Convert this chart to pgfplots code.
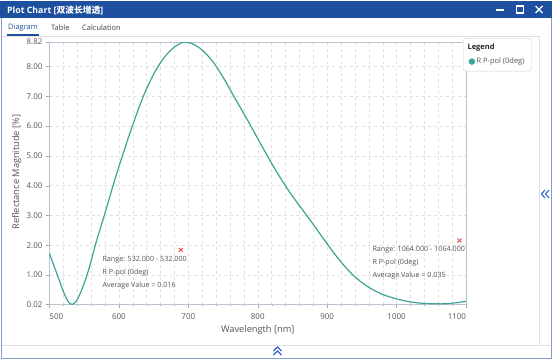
\documentclass[border=0pt]{standalone}
\usepackage{pgfplots}
\pgfplotsset{compat=1.18}
\usepackage{pgfplotstable}
\usepackage{fontspec}
\setmainfont{Open Sans}
\newfontfamily\cjk{Noto Sans CJK SC}
\definecolor{curve}{RGB}{60,165,150}
\definecolor{winblue}{RGB}{30,80,160}
\definecolor{axgray}{RGB}{185,195,208}
\definecolor{gridgray}{RGB}{224,224,224}
\definecolor{txt}{RGB}{85,85,85}
\definecolor{chev}{RGB}{50,100,210}
\definecolor{mkred}{RGB}{235,70,70}

\pgfplotstableread{
x y
500 1.73
504 1.46
508 1.21
512 0.96
516 0.70
520 0.45
524 0.23
528 0.08
532 0.016
536 0.06
540 0.18
544 0.37
548 0.60
552 0.86
556 1.15
560 1.48
565 1.92
570 2.32
575 2.70
580 3.08
585 3.48
590 3.88
595 4.27
600 4.64
605 5.00
610 5.355
615 5.705
620 6.045
625 6.375
630 6.69
635 6.99
640 7.26
645 7.51
650 7.74
655 7.95
660 8.13
665 8.29
670 8.43
675 8.55
680 8.65
685 8.73
690 8.79
695 8.82
700 8.80
705 8.77
710 8.71
715 8.64
720 8.55
725 8.44
730 8.31
735 8.17
740 8.01
745 7.83
750 7.64
755 7.44
760 7.23
765 7.02
770 6.82
775 6.62
780 6.41
785 6.21
790 6.00
800 5.58
810 5.16
820 4.75
830 4.36
840 3.99
850 3.65
860 3.33
870 3.02
880 2.70
890 2.37
900 2.05
910 1.73
920 1.44
930 1.17
940 0.94
950 0.75
960 0.59
970 0.46
980 0.35
990 0.27
1000 0.20
1010 0.145
1020 0.10
1030 0.07
1040 0.05
1050 0.04
1064 0.035
1075 0.045
1085 0.07
1092 0.09
1100 0.12
}\curvedata

\begin{document}
\begin{tikzpicture}
\useasboundingbox (0,0) rectangle (552bp,-359bp);
\fill[white] (0,0) rectangle (552bp,-359bp);
% title bar
\fill[winblue] (0,-1bp) rectangle (552bp,-18bp);
\node[anchor=west, text=white, font=\fontsize{8.8}{10}\selectfont\bfseries, inner sep=0] at (7bp,-10bp) {Plot Chart [{\cjk 双波长增透}]};
\draw[white, line width=1.2bp] (496bp,-10bp) -- (504bp,-10bp);
\draw[white, line width=1.1bp] (516.5bp,-6bp) rectangle (523.5bp,-13bp);
\draw[white, line width=1.1bp] (535.5bp,-6bp) -- (542.5bp,-13bp) (535.5bp,-13bp) -- (542.5bp,-6bp);
% window frame
\draw[winblue!55, line width=1bp] (1bp,-18bp) -- (1bp,-358bp) -- (551bp,-358bp) -- (551bp,-18bp);
% tabs
\node[anchor=west, font=\fontsize{7.5}{9}\selectfont, text=winblue, inner sep=0] at (8bp,-28bp) {Diagram};
\node[anchor=west, font=\fontsize{7.5}{9}\selectfont, text=black!75, inner sep=0] at (51bp,-28bp) {Table};
\node[anchor=west, font=\fontsize{7.5}{9}\selectfont, text=black!75, inner sep=0] at (82bp,-28bp) {Calculation};
\fill[winblue] (7bp,-33.5bp) rectangle (39bp,-35.5bp);
\draw[black!12] (2bp,-36bp) -- (539bp,-36bp);
\draw[black!12] (539bp,-36bp) -- (539bp,-345bp);
\draw[black!12] (2bp,-345bp) -- (550bp,-345bp);
% chevrons
\draw[chev, line width=1.1bp] (545bp,-190bp) -- (541.5bp,-194bp) -- (545bp,-198bp);
\draw[chev, line width=1.1bp] (549bp,-190bp) -- (545.5bp,-194bp) -- (549bp,-198bp);
\draw[chev, line width=1.1bp] (273.5bp,-351bp) -- (277.5bp,-347bp) -- (281.5bp,-351bp);
\draw[chev, line width=1.1bp] (273.5bp,-355bp) -- (277.5bp,-351bp) -- (281.5bp,-355bp);

\begin{axis}[
  at={(49.5bp,-304.3bp)}, anchor=south west, scale only axis,
  width=416.5bp, height=262.3bp,
  xmin=500, xmax=1100, ymin=0.02, ymax=8.82,
  xtick={500,600,...,1100},
  xticklabels={\rlap{500},600,700,800,900,1000,\llap{1100}},
  minor x tick num=4,
  ytick={0.02,1,2,3,4,5,6,7,8,8.82},
  y tick label style={/pgf/number format/fixed, /pgf/number format/fixed zerofill, /pgf/number format/precision=2},
  tick label style={/pgf/number format/assume math mode=true, font=\fontsize{8}{9}\selectfont, text=txt},
  x tick label style={yshift=-2.5bp},
  xmajorgrids, xminorgrids, ymajorgrids,
  grid style={gridgray, dash pattern=on 3bp off 3bp},
  minor grid style={gridgray, dash pattern=on 3bp off 3bp},
  axis line style={axgray},
  tick style={black!35},
  major tick length=3.5bp, minor tick length=2bp,
  tick align=outside, tick pos=left,
  xlabel={Wavelength [nm]}, ylabel={Reflectance Magnitude [\%]},
  label style={font=\fontsize{9.3}{11}\selectfont, text=txt},
  x label style={at={(axis description cs:0.5,-0.099)}, anchor=center},
  y label style={at={(axis description cs:-0.0788,0.504)}, anchor=center},
  legend style={at={(0.9928,1.0153)}, anchor=north west, draw=black!18, rounded corners=3bp, fill=white,
    font=\fontsize{7.5}{9}\selectfont, text=txt, inner xsep=5.5bp, inner ysep=4.5bp, row sep=4bp,
    nodes={inner sep=1.5bp, text height=5.5bp, text depth=1.5bp}},
  legend cell align=left,
]
\addlegendimage{empty legend}
\addlegendentry{\hspace*{-9bp}\textbf{\color{black!85}Legend}}
\addplot[curve, line width=1.2bp, smooth, tension=0.35,
  legend image code/.code={\fill[curve] (2.6bp,0) circle (2.6bp);}]
  table[x=x, y=y] {\curvedata};
\addlegendentry{R P-pol (0deg)}
\addplot[only marks, mark=x, mark size=2.8bp, mark options={line width=0.9bp}, mkred, forget plot]
  coordinates {(689.2,1.844) (1090.6,2.16)};
\end{axis}

\begin{scope}[font=\fontsize{7.2}{8}\selectfont, every node/.style={anchor=west, text=txt, inner sep=0}]
\node at (102.3bp,-260bp) {Range: 532.000 - 532.000};
\node at (102.3bp,-273bp) {R P-pol (0deg)};
\node at (102.3bp,-286bp) {Average Value = 0.016};
\begin{scope}
\clip (0,0) rectangle (466bp,-359bp);
\node at (372.3bp,-250bp) {Range: 1064.000 - 1064.000};
\node at (372.3bp,-263bp) {R P-pol (0deg)};
\node at (372.3bp,-276bp) {Average Value = 0.035};
\end{scope}
\end{scope}
\end{tikzpicture}
\end{document}
